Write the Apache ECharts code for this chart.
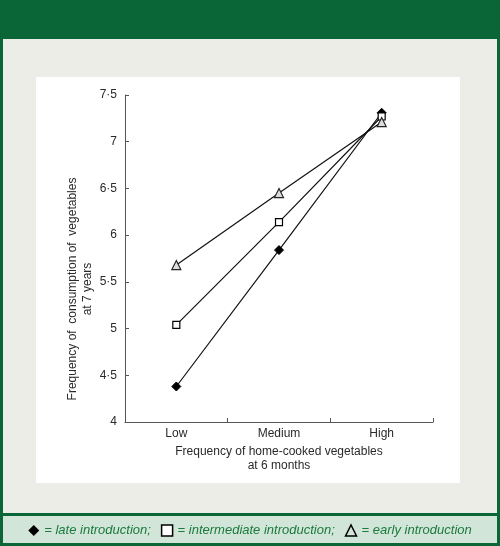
<!DOCTYPE html>
<html>
<head>
<meta charset="utf-8">
<script src="https://cdn.jsdelivr.net/npm/echarts@6/dist/echarts.min.js"></script>
<style>
  html, body { margin: 0; padding: 0; background: #0a6636; }
  #chart { width: 500px; height: 546px; }
</style>
</head>
<body>
<div id="chart"></div>
<script>
    // categories on x axis
    let categories = ['Low', 'Medium', 'High'];
    // mean frequency at 7 years, one array per introduction group
    let lateData = [4.38, 5.84, 7.31];
    let intermediateData = [5.04, 6.14, 7.27];
    let earlyData = [5.68, 6.45, 7.21];
    let seriesNames = ['late introduction;', 'intermediate introduction;', 'early introduction'];

    let green = '#0a6636';
    let textGrey = '#2a2a2a';
    let lineColor = '#111';

    let chart = echarts.init(document.getElementById('chart'));

    let options = {
        backgroundColor: green,
        animation: false,
        textStyle: {
            fontFamily: 'Liberation Sans, Arial, sans-serif'
        },
        grid: {
            left: 125,
            right: 67,
            top: 95,
            bottom: 124
        },
        graphic: [
            // grey panel
            { type: 'rect', z: -10, shape: { x: 3, y: 39, width: 494, height: 474 }, style: { fill: '#ededE8' } },
            // white plot box
            { type: 'rect', z: -9, shape: { x: 36, y: 77, width: 424, height: 406 }, style: { fill: '#ffffff' } },
            // footer strip
            { type: 'rect', z: -10, shape: { x: 3, y: 516, width: 494, height: 27 }, style: { fill: '#d2e5d9' } },
            // y axis title
            {
                type: 'text',
                z: 5,
                x: 80,
                y: 289,
                rotation: Math.PI / 2,
                style: {
                    text: 'Frequency of  consumption of  vegetables\nat 7 years',
                    fill: textGrey,
                    font: '12px Liberation Sans, Arial, sans-serif',
                    align: 'center',
                    verticalAlign: 'middle',
                    lineHeight: 15
                }
            },
            // x axis title
            {
                type: 'text',
                z: 5,
                x: 279,
                y: 459,
                style: {
                    text: 'Frequency of home-cooked vegetables\nat 6 months',
                    fill: textGrey,
                    font: '12px Liberation Sans, Arial, sans-serif',
                    align: 'center',
                    verticalAlign: 'middle',
                    lineHeight: 14
                }
            }
        ],
        legend: {
            bottom: 4,
            left: 'center',
            itemGap: 10,
            itemWidth: 11,
            itemHeight: 11,
            textStyle: {
                color: '#1b7a3c',
                fontStyle: 'italic',
                fontSize: 13,
                fontFamily: 'Liberation Sans, Arial, sans-serif'
            },
            formatter: (name) => '= ' + name,
            data: [
                { name: seriesNames[0], icon: 'diamond', itemStyle: { color: '#000', borderColor: '#000' } },
                { name: seriesNames[1], icon: 'rect', itemStyle: { color: '#fff', borderColor: '#000', borderWidth: 1.5 } },
                { name: seriesNames[2], icon: 'triangle', itemStyle: { color: 'transparent', borderColor: '#000', borderWidth: 1.5 } }
            ]
        },
        xAxis: {
            type: 'category',
            data: categories,
            boundaryGap: true,
            axisLine: { lineStyle: { color: '#555', width: 1 } },
            axisTick: { show: true, inside: true, length: 4, interval: 0, lineStyle: { color: '#555' } },
            axisLabel: { color: textGrey, fontSize: 12, margin: 6 },
            splitLine: { show: false }
        },
        yAxis: {
            type: 'value',
            min: 4,
            max: 7.5,
            interval: 0.5,
            axisLine: { show: true, lineStyle: { color: '#555', width: 1 } },
            axisTick: { show: true, inside: true, length: 4, lineStyle: { color: '#555' } },
            axisLabel: {
                color: textGrey,
                fontSize: 12,
                margin: 8,
                formatter: (v) => String(v).replace('.', '·')
            },
            splitLine: { show: false }
        },
        series: [
            {
                name: seriesNames[0],
                type: 'line',
                data: lateData,
                symbol: 'diamond',
                symbolSize: 9,
                lineStyle: { color: lineColor, width: 1.2 },
                itemStyle: { color: '#000', borderColor: '#000' }
            },
            {
                name: seriesNames[1],
                type: 'line',
                data: intermediateData,
                symbol: 'rect',
                symbolSize: 7,
                lineStyle: { color: lineColor, width: 1.2 },
                itemStyle: { color: '#fff', borderColor: '#000', borderWidth: 1.2 }
            },
            {
                name: seriesNames[2],
                type: 'line',
                data: earlyData,
                symbol: 'triangle',
                symbolSize: 9,
                lineStyle: { color: lineColor, width: 1.2 },
                itemStyle: { color: '#ddd', borderColor: '#222', borderWidth: 1.2 }
            }
        ]
    };

    chart.setOption(options);
</script>
</body>
</html>
